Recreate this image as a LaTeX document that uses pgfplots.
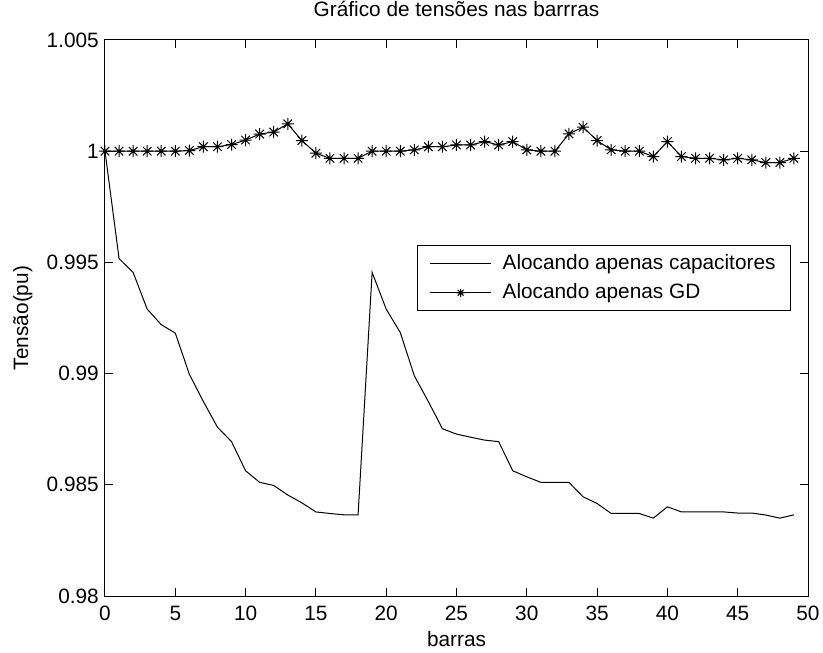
\documentclass[border=0pt]{standalone}
\usepackage{pgfplots}
\pgfplotsset{compat=1.18}
\usepackage{pgfplotstable}
\usepackage{fontspec}
\setmainfont{Liberation Sans}
\pgfdeclareplotmark{mstar}{%
  \pgfpathmoveto{\pgfqpoint{-\pgfplotmarksize}{0pt}}\pgfpathlineto{\pgfqpoint{\pgfplotmarksize}{0pt}}%
  \pgfpathmoveto{\pgfqpoint{0pt}{-\pgfplotmarksize}}\pgfpathlineto{\pgfqpoint{0pt}{\pgfplotmarksize}}%
  \pgfpathmoveto{\pgfqpoint{-0.707\pgfplotmarksize}{-0.707\pgfplotmarksize}}\pgfpathlineto{\pgfqpoint{0.707\pgfplotmarksize}{0.707\pgfplotmarksize}}%
  \pgfpathmoveto{\pgfqpoint{-0.707\pgfplotmarksize}{0.707\pgfplotmarksize}}\pgfpathlineto{\pgfqpoint{0.707\pgfplotmarksize}{-0.707\pgfplotmarksize}}%
  \pgfusepathqstroke}
\pgfplotstableread{
x y
0 1.0
1 0.99517
2 0.99455
3 0.9929
4 0.9922
5 0.99182
6 0.98997
7 0.98874
8 0.98759
9 0.98694
10 0.98563
11 0.98511
12 0.98497
13 0.98454
14 0.98419
15 0.98378
16 0.98371
17 0.98365
18 0.98365
19 0.99455
20 0.9929
21 0.99185
22 0.9899
23 0.98874
24 0.98752
25 0.98728
26 0.98714
27 0.98701
28 0.98694
29 0.98563
30 0.98536
31 0.98511
32 0.98511
33 0.98511
34 0.98446
35 0.98416
36 0.98371
37 0.98371
38 0.98371
39 0.9835
40 0.98401
41 0.98378
42 0.98378
43 0.98378
44 0.98378
45 0.98373
46 0.98373
47 0.98364
48 0.9835
49 0.98365
}\capdata
\pgfplotstableread{
x y
0 1.0
1 1.0
2 1.0
3 1.0
4 1.0
5 1.0
6 1.00003
7 1.0002
8 1.0002
9 1.0003
10 1.0005
11 1.00077
12 1.00086
13 1.00123
14 1.00048
15 0.99991
16 0.99968
17 0.99968
18 0.99968
19 1.0
20 1.0
21 1.0
22 1.00006
23 1.0002
24 1.0002
25 1.00028
26 1.00028
27 1.00043
28 1.00028
29 1.00043
30 1.00006
31 1.0
32 1.0
33 1.00078
34 1.00108
35 1.00048
36 1.00006
37 1.0
38 1.0
39 0.99976
40 1.00043
41 0.99976
42 0.99968
43 0.99968
44 0.99961
45 0.99968
46 0.99961
47 0.99949
48 0.99949
49 0.99968
}\gddata
\begin{document}
\begin{tikzpicture}[font=\fontsize{10.4pt}{12pt}\selectfont]
\begin{axis}[
  scale only axis,
  width=351.5pt, height=278pt,
  xmin=0, xmax=50, ymin=0.98, ymax=1.005,
  axis line style={line width=0.5pt},
  tick style={line width=0.5pt, black},
  tick align=inside, major tick length=3.8pt,
  xtick={0,5,...,50},
  xticklabels={0,5,10,15,20,25,30,35,40,45,50},
  ytick={0.98,0.985,0.99,0.995,1,1.005},
  yticklabels={0.98,0.985,0.99,0.995,1,1.005},
  xticklabel style={anchor=base, yshift=-12pt, inner sep=0pt},
  yticklabel style={anchor=east, inner sep=0pt, xshift=-2.9pt},
  title={Gráfico de tensões nas barrras},
  title style={at={(axis description cs:0.5,1)}, anchor=base, yshift=5.85pt, inner sep=0pt},
  xlabel={barras},
  xlabel style={at={(axis description cs:0.5,0)}, anchor=base, yshift=-25pt, inner sep=0pt},
  ylabel={Tensão(pu)},
  ylabel style={at={(axis description cs:-0.117,0.5)}, anchor=center, inner sep=0pt},
  legend cell align=left,
  legend style={at={(0.444,0.631)}, anchor=north west, draw=black, line width=0.5pt,
    inner xsep=6pt, inner ysep=3pt, row sep=2.5pt,
    nodes={inner sep=1.5pt},
    /tikz/every odd column/.append style={column sep=4pt}},
  legend image code/.code={\draw[mark repeat=2,mark phase=2,mark size=2pt,#1] plot coordinates {(0pt,0pt) (15.25pt,0pt) (30.5pt,0pt)};},
]
\addplot[black, line width=0.5pt, mark=none] table[x=x,y=y] {\capdata};
\addlegendentry{Alocando apenas capacitores}
\addplot[black, line width=0.5pt, mark=mstar, mark size=3pt] table[x=x,y=y] {\gddata};
\addlegendentry{Alocando apenas GD}
\coordinate (bl) at (rel axis cs:0,0);
\coordinate (tr) at (rel axis cs:1,1);
\end{axis}
\path ([xshift=-52.5pt,yshift=-28pt]bl) rectangle ([xshift=7.5pt,yshift=20pt]tr);
\end{tikzpicture}
\end{document}
